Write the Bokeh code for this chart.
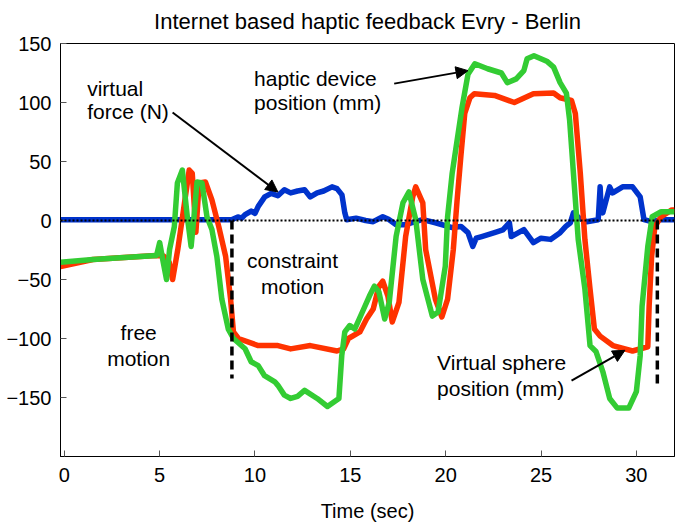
from bokeh.plotting import figure
from bokeh.models import Range1d, FixedTicker, Arrow, NormalHead, Span, Label
from bokeh.embed import file_html
from bokeh.resources import INLINE

# ---------------- data ----------------
x_ticks = [0, 5, 10, 15, 20, 25, 30]
y_ticks = [-150, -100, -50, 0, 50, 100, 150]

force_t = [-0.2, 8.77, 9.1, 9.3, 9.48, 9.8, 10.0, 10.17, 10.51, 10.85, 11.2, 11.54, 11.87,
           12.23, 12.6, 12.9, 13.26, 13.6, 14.04, 14.3, 14.56, 14.71, 14.81, 15.3, 15.8,
           16.2, 16.7, 17.0, 17.4, 17.9, 18.4, 18.8, 19.46, 20.34, 20.8, 21.17, 21.42, 21.6,
           21.89, 22.56, 23.0, 23.34, 23.44, 24.1, 24.6, 25.0, 25.5, 26.0, 26.3, 26.54, 26.7,
           27.0, 27.4, 28.0, 28.1, 28.15, 28.24, 28.6, 28.76, 29.28, 29.8, 30.2, 30.4, 30.8,
           31.3, 32.0]
force_v = [0.7, 0.7, 3, 2, 5, 8, 6, 12, 20, 23, 21, 26, 23.4,
           25, 26, 20, 23.4, 25, 28.5, 27, 21.7, 6.5, 0.7, 2, 0,
           -1, 3.2, 1, -3.5, -3.5, -1, 0.7, -1.9, -6, -5, -10.3, -22, -15,
           -13.6, -10.3, -8, -1.9, -13.6, -7.7, -18.7, -15, -16, -10.3, -5, -1.9, 6.5,
           2, -1, 0.7, 28.5, 10, 6.5, 28.5, 23.4, 28.5, 28.5, 20, 0.7, -1,
           0.7, 0.7]

sphere_t = [-0.2, 1.5, 4.8, 5.2, 5.5, 5.68, 5.95, 6.2, 6.55, 6.71, 6.9, 7.07, 7.4, 7.74, 8.1,
            8.46, 8.72, 8.87, 9.13, 10.17, 11.2, 11.87, 12.9, 14.3, 14.65, 14.9, 15.5, 15.85,
            16.2, 16.5, 16.7, 16.97, 17.2, 17.55, 17.9, 18.27, 18.43, 18.8, 18.95, 19.46,
            19.8, 20.1, 20.4, 20.6, 20.8, 21.0, 21.27, 21.5, 22.56, 23.6, 24.6, 25.66, 26.0,
            26.6, 26.8, 27.06, 27.3, 27.57, 27.8, 28.1, 28.77, 29.8, 30.6, 30.67, 30.8,
            30.97, 31.3, 31.86, 32.0]
sphere_v = [-39, -33, -29.6, -30, -35.5, -50, -24.6, 3.2, 42.8, 40, -10, 31.8, 32.7, 17.5,
            -5.2, -30.5, -66.7, -94.4, -100, -106, -106, -108.8, -106, -110.6, -108.7, -100,
            -94.4, -83.5, -75, -55.7, -51.5, -64, -86, -69.4, -13.6, 20, 28.5, 15, -24.6,
            -66.7, -81.8, -66.7, -24.6, 17.5, 55, 90.7, 104, 107.5, 106, 100, 107.5, 108,
            104, 101.7, 90.7, 40, -16, -58, -92, -98, -106, -110.6, -107, -72.6, -30.5,
            -5.2, 3.2, 9, 9]

device_t = [-0.2, 1.5, 4.84, 5.0, 5.16, 5.36, 5.52, 5.77, 5.93, 6.19, 6.45, 6.65, 6.8, 6.96,
            7.22, 7.48, 7.74, 8.0, 8.26, 8.6, 8.87, 9.48, 9.8, 10.17, 10.5, 11.04, 11.2,
            11.54, 11.87, 12.23, 12.6, 13.26, 13.8, 14.4, 14.55, 14.71, 14.97, 15.23, 15.7,
            16.0, 16.26, 16.5, 16.8, 17.04, 17.4, 17.76, 18.07, 18.43, 18.8, 19.3, 19.6,
            19.98, 20.1, 20.34, 20.86, 21.17, 21.53, 22.2, 22.92, 23.23, 23.7, 24.1, 24.27,
            24.63, 25.3, 25.66, 26.0, 26.33, 26.5, 26.7, 26.95, 27.3, 27.57, 27.88, 28.24,
            28.6, 29.0, 29.6, 30.0, 30.2, 30.3, 30.6, 30.83, 31.3, 32.0]
device_v = [-35.4, -33, -29.6, -18.7, -33, -50, -24.6, -5.2, 31.8, 42.8, 3.2, -22, 3.2, 32.7,
            31.8, 3.2, -7.7, -30.5, -66.7, -92, -100, -108.7, -119.7, -123, -131.5, -136.7,
            -139.7, -148, -150.8, -149, -144, -150.8, -157.6, -150.8, -114.6, -94.4, -89,
            -92, -75, -64, -55.7, -60.6, -83.5, -69.4, -13.6, 15, 24.2, 0.7, -50, -81,
            -77.6, -38.7, 3.2, 40, 96, 124, 132.8, 128.6, 125, 116.8, 120, 127, 137, 139.6,
            135, 130, 116.8, 108, 85, 40, -16, -58, -106, -111, -128, -150.8, -159, -159,
            -145, -114.6, -72.6, -22, 3.2, 7.4, 7.4]

# phase boundaries (dashed markers)
phase_t = [8.79, 31.1]
phase_bottom = [-134, -140]

# ---------------- figure ----------------
FONT = "Liberation Sans"

p = figure(width=675, height=524, output_backend="svg", toolbar_location=None,
           x_range=Range1d(-0.2, 32), y_range=Range1d(-200, 150),
           min_border_left=60, min_border_right=1, min_border_top=43,
           min_border_bottom=64)
p.title.text = "Internet based haptic feedback Evry - Berlin"
p.title.align = "center"
p.title.vertical_align = "top"
p.title.text_font = FONT
p.title.text_font_size = "22px"
p.title.text_font_style = "normal"
p.title.text_color = "black"
p.title.standoff = 16

p.xgrid.grid_line_color = None
p.ygrid.grid_line_color = None
p.outline_line_color = "black"
p.outline_line_width = 1
p.background_fill_color = "white"
p.border_fill_color = "white"

for ax, ticks in ((p.xaxis, x_ticks), (p.yaxis, y_ticks)):
    ax.ticker = FixedTicker(ticks=ticks)
    ax.major_tick_in = 6
    ax.major_tick_out = 0
    ax.minor_tick_line_color = None
    ax.major_tick_line_color = "#555555"
    ax.axis_line_color = "black"
    ax.major_label_text_font = FONT
    ax.major_label_text_font_size = "20px"
    ax.major_label_text_color = "black"

p.yaxis.major_label_standoff = 9
p.xaxis.major_label_standoff = 11
p.xaxis.axis_label = "Time (sec)"
p.xaxis.axis_label_text_font = FONT
p.xaxis.axis_label_text_font_size = "20px"
p.xaxis.axis_label_text_font_style = "normal"
p.xaxis.axis_label_text_color = "black"
p.xaxis.axis_label_standoff = 15

# series
p.line(force_t, force_v, line_width=5.5, line_color="#0033cc", line_join="round")
p.line(sphere_t, sphere_v, line_width=5.5, line_color="#ff3300", line_join="round")
p.line(device_t, device_v, line_width=5.5, line_color="#33cc33", line_join="round")

# dashed phase markers
p.segment(x0=phase_t, y0=[0, 0], x1=phase_t, y1=phase_bottom,
          line_color="black", line_width=3.5, line_dash="9 5")

# dotted zero line
p.add_layout(Span(location=0, dimension="width", line_color="black",
                  line_width=2, line_dash="2 2"))

# annotations
def lab(x, y, t, align="left"):
    p.add_layout(Label(x=x, y=y, text=t, text_font=FONT, text_font_size="21px",
                       text_align=align, text_baseline="middle", text_color="black"))

lab(1.2, 112, "virtual")
lab(1.2, 92, "force (N)")
lab(9.95, 120, "haptic device")
lab(9.95, 100, "position (mm)")
lab(11.97, -34, "constraint", "center")
lab(11.97, -56, "motion", "center")
lab(3.9, -95, "free", "center")
lab(3.9, -117, "motion", "center")
lab(19.55, -120, "Virtual sphere")
lab(19.55, -142, "position (mm)")

for xs, ys, xe, ye in ((5.68, 91.5, 11.2, 24.2),
                       (17.3, 116, 21.17, 127),
                       (26.6, -135.6, 29.4, -110)):
    p.add_layout(Arrow(x_start=xs, y_start=ys, x_end=xe, y_end=ye,
                       line_color="black", line_width=2,
                       end=NormalHead(size=12, fill_color="black", line_color="black")))

open("out.html", "w").write(file_html(p, INLINE))
